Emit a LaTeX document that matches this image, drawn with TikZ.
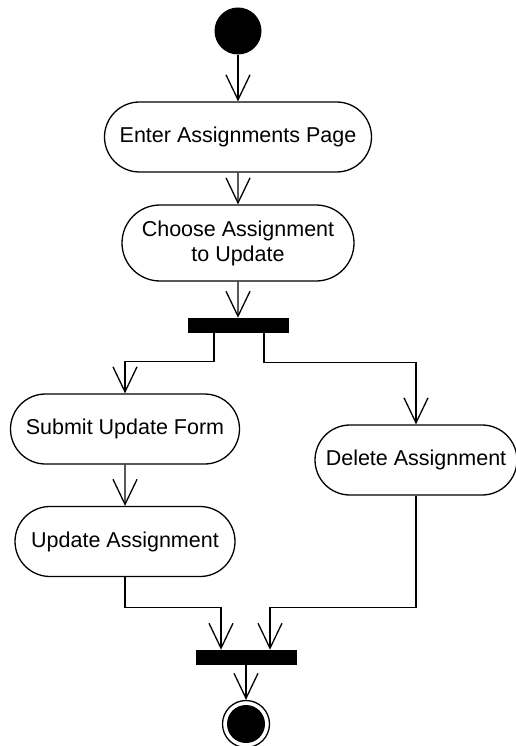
\documentclass[tikz,border=0pt]{standalone}
\usepackage{fontspec}
\setmainfont{Liberation Sans}
\usetikzlibrary{arrows.meta,shapes.misc}
\begin{document}
\begin{tikzpicture}[x=1pt,y=-1pt,line width=1.3pt,
  activity/.style={rounded rectangle, draw, inner xsep=0pt, inner ysep=0pt,
    minimum height=70pt, align=center,
    font=\fontsize{21.5}{25}\selectfont},
  bar/.style={rectangle, fill=black, draw=black, line width=0.5pt, minimum width=100pt, minimum height=14pt, inner sep=0pt},
  arr/.style={-{Straight Barb[length=25pt,width=24pt]}}]
\useasboundingbox (0,0) rectangle (515,746);
\node[circle, fill=black, minimum size=47pt, inner sep=0pt] (start) at (238,31) {};
\node[activity, minimum width=267pt] (b1) at (238,137) {Enter Assignments Page};
\node[activity, minimum width=232pt, minimum height=76pt] (b2) at (238,243) {Choose Assignment\\to Update};
\node[bar] (bar1) at (238,325) {};
\node[activity, minimum width=229pt] (b3) at (125,429) {Submit Update Form};
\node[activity, minimum width=202pt] (b4) at (416,460) {Delete Assignment};
\node[activity, minimum width=220pt] (b5) at (125,541.5) {Update Assignment};
\node[bar] (bar2) at (246,657) {};
\node[circle, draw, minimum size=47pt, inner sep=0pt,
  path picture={\fill (path picture bounding box.center) circle (19pt);}] (final) at (246,724) {};
\draw[arr] (start) -- (b1);
\draw[arr] (b1) -- (b2);
\draw[arr] (b2) -- (bar1);
\draw[arr] ([xshift=-24pt]bar1.south) -- ++(0,29) -| (b3.north);
\draw[arr] ([xshift=26pt]bar1.south) -- ++(0,30) -| (b4.north);
\draw[arr] (b3) -- (b5);
\draw[arr] (b5.south) -- ++(0,30) -| ([xshift=-25pt]bar2.north);
\draw[arr] (b4.south) -- ++(0,112) -| ([xshift=24pt]bar2.north);
\draw[arr] (bar2) -- (final);
\end{tikzpicture}
\end{document}
